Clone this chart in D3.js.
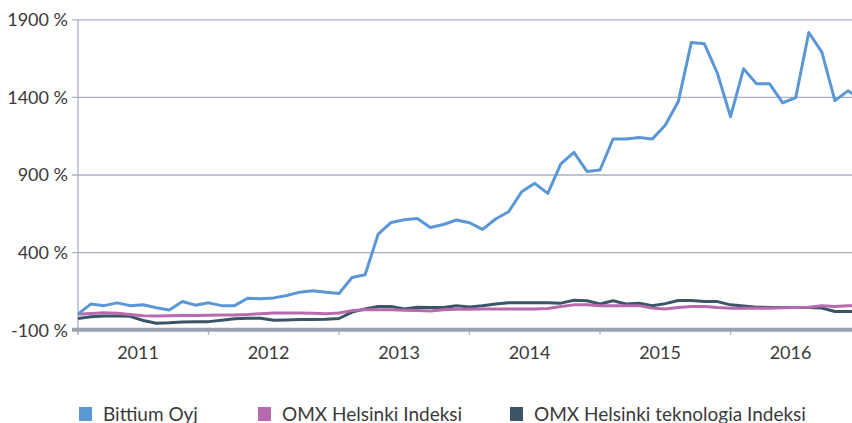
<!DOCTYPE html>
<html>

<head>
  <meta charset="utf-8">
  <title>Bittium Oyj</title>
  <script type="text/javascript" src="https://cdn.jsdelivr.net/npm/d3@7"></script>
  <style type="text/css">
    body { margin: 0; background: #fff; overflow: hidden; }
    text { font-family: Lato, "Open Sans", sans-serif; fill: #3a3a3a; }
  </style>
</head>

<body>
  <script type="text/javascript">

    // time in decimal years, one point every tenth of a year
    const t = [2011.0, 2011.1, 2011.2, 2011.3, 2011.4, 2011.5, 2011.6, 2011.7, 2011.8, 2011.9,
      2012.0, 2012.1, 2012.2, 2012.3, 2012.4, 2012.5, 2012.6, 2012.7, 2012.8, 2012.9,
      2013.0, 2013.1, 2013.2, 2013.3, 2013.4, 2013.5, 2013.6, 2013.7, 2013.8, 2013.9,
      2014.0, 2014.1, 2014.2, 2014.3, 2014.4, 2014.5, 2014.6, 2014.7, 2014.8, 2014.9,
      2015.0, 2015.1, 2015.2, 2015.3, 2015.4, 2015.5, 2015.6, 2015.7, 2015.8, 2015.9,
      2016.0, 2016.1, 2016.2, 2016.3, 2016.4, 2016.5, 2016.6, 2016.7, 2016.8, 2016.9,
      2017.0];

    const bittium = [0, 66, 55, 73, 55, 61, 42, 27, 82, 58,
      73, 55, 55, 103, 99, 105, 120, 142, 151, 142,
      133, 236, 254, 516, 591, 609, 617, 559, 578, 607,
      589, 546, 613, 660, 789, 843, 778, 968, 1043, 920,
      929, 1129, 1129, 1138, 1128, 1217, 1370, 1751, 1742, 1551,
      1273, 1581, 1484, 1484, 1362, 1396, 1815, 1688, 1376, 1439,
      1385];

    const omxh = [0, 5, 10, 6, -2, -10, -12, -10, -9, -8,
      -7, -6, -5, -2, 3, 7, 8, 7, 6, 3,
      8, 23, 28, 28, 28, 26, 23, 21, 28, 32,
      32, 34, 34, 34, 34, 34, 36, 49, 60, 60,
      54, 54, 54, 55, 39, 34, 43, 49, 49, 43,
      39, 39, 39, 39, 41, 43, 45, 54, 49, 54,
      55];

    const omxTech = [-28, -17, -11, -11, -14, -41, -59, -56, -50, -48,
      -48, -39, -30, -26, -26, -39, -37, -35, -34, -32,
      -28, 13, 34, 49, 49, 34, 45, 43, 43, 55,
      47, 54, 65, 73, 73, 73, 73, 71, 90, 86,
      66, 86, 66, 71, 55, 68, 88, 88, 81, 81,
      60, 52, 45, 43, 43, 43, 43, 40, 17, 17,
      17];

    const yTicks = [-100, 400, 900, 1400, 1900];
    const years = [2011, 2012, 2013, 2014, 2015, 2016];

    const seriesNames = ["Bittium Oyj", "OMX Helsinki Indeksi", "OMX Helsinki teknologia Indeksi"];
    const seriesColors = ["#5b97d5", "#b76aae", "#3b5467"];
    const seriesValues = [bittium, omxh, omxTech];

    const w = 852;
    const h = 423;
    const plotLeft = 78, plotRight = 852, plotTop = 19.3, plotBottom = 329.7;

    const x = d3.scaleLinear().domain([2011, 2017]).range([plotLeft, 861]);
    const y = d3.scaleLinear().domain([-100, 1900]).range([plotBottom, plotTop]);

    const svg = d3.select("body")
      .append("svg")
      .attr("width", w)
      .attr("height", h)
      .style("display", "block");

    svg.append("clipPath").attr("id", "plot")
      .append("rect").attr("x", plotLeft - 2).attr("y", 0)
      .attr("width", plotRight - plotLeft + 2).attr("height", plotBottom + 2);

    // gridlines + y labels
    const yAxis = svg.append("g")
      .attr("transform", "translate(" + plotLeft + ",0)")
      .call(d3.axisLeft(y).tickValues(yTicks).tickSize(-(plotRight - plotLeft)).tickPadding(10)
        .tickFormat(d => d + " %"));
    yAxis.select(".domain").remove();
    yAxis.selectAll(".tick line")
      .attr("x1", -6)
      .attr("stroke", "#a7b1bf")
      .attr("stroke-width", 1.3);
    yAxis.selectAll(".tick text")
      .style("font-size", "18px")
      .attr("fill", "#3a3a3a")
      .attr("dy", "0.36em");

    // vertical axis line
    svg.append("line")
      .attr("x1", plotLeft).attr("x2", plotLeft)
      .attr("y1", plotTop).attr("y2", plotBottom + 5)
      .attr("stroke", "#a7b1bf")
      .attr("stroke-width", 1.3);

    // year ticks
    svg.append("g").selectAll("line")
      .data(years)
      .enter()
      .append("line")
      .attr("x1", d => x(d)).attr("x2", d => x(d))
      .attr("y1", plotBottom).attr("y2", plotBottom + 5)
      .attr("stroke", "#a7b1bf")
      .attr("stroke-width", 1.3);

    svg.append("g").selectAll("text")
      .data(years)
      .enter()
      .append("text")
      .attr("x", d => x(d + 0.46))
      .attr("y", 359)
      .attr("text-anchor", "middle")
      .style("font-size", "18px")
      .text(d => d);

    // lines
    const line = d3.line()
      .x((d, i) => x(t[i]))
      .y(d => y(d));

    const plot = svg.append("g").attr("clip-path", "url(#plot)");
    plot.selectAll("path")
      .data([2, 1, 0])
      .enter()
      .append("path")
      .attr("d", k => line(seriesValues[k]))
      .attr("fill", "none")
      .attr("stroke", k => seriesColors[k])
      .attr("stroke-width", 3)
      .attr("stroke-linejoin", "round");

    // thick baseline
    svg.append("line")
      .attr("x1", plotLeft - 6).attr("x2", plotRight)
      .attr("y1", y(-100)).attr("y2", y(-100))
      .attr("stroke", "#98a2ae")
      .attr("stroke-width", 4);

    // legend
    const legendX = [79, 258, 510];
    const legend = svg.append("g").selectAll("g")
      .data(seriesNames)
      .enter()
      .append("g")
      .attr("transform", (d, i) => "translate(" + legendX[i] + ",407)");
    legend.append("rect")
      .attr("width", 13).attr("height", 14)
      .attr("fill", (d, i) => seriesColors[i]);
    legend.append("text")
      .attr("x", 24)
      .attr("y", 14)
      .style("font-size", "19px")
      .text(d => d);

  </script>
</body>

</html>
